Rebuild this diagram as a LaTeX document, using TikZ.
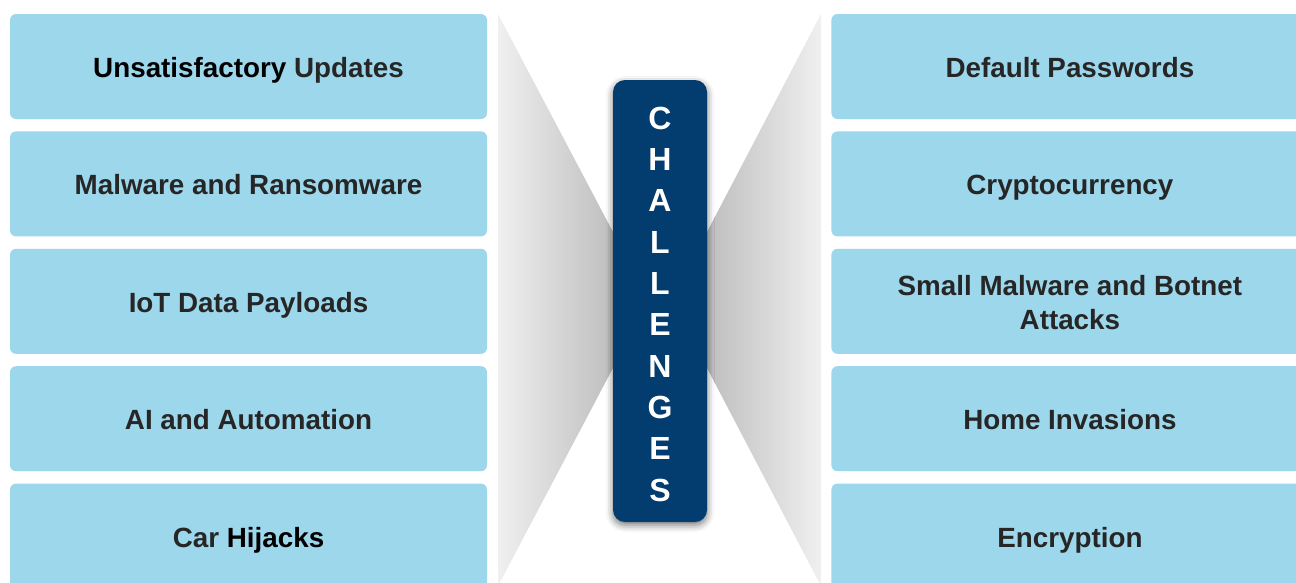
\documentclass[tikz,border=0pt]{standalone}
\usepackage{fontspec}
\setmainfont{Liberation Sans}
\usetikzlibrary{positioning,shadows.blur}
\definecolor{chlblue}{HTML}{9DD7EB}
\definecolor{chlnavy}{HTML}{033D6F}
\definecolor{chltext}{HTML}{262626}
\definecolor{chllight}{HTML}{F0F0F0}
\definecolor{chldark}{HTML}{BEBEBE}

\begin{document}
\begin{tikzpicture}[
  x=1pt, y=-1pt,
  node distance=12pt,
  item/.style={fill=chlblue, rounded corners=6pt, inner sep=0pt,
               minimum width=477pt, minimum height=105pt, align=center,
               text height=24pt, text depth=2pt,
               text=chltext, font=\fontsize{27.8}{34}\selectfont\bfseries},
  hub/.style={fill=chlnavy, rounded corners=12pt, inner sep=0pt,
              minimum width=94pt, minimum height=442pt, align=center,
              text height=400pt, text depth=0pt,
              text=white, font=\fontsize{32}{41.3}\selectfont\bfseries,
              blur shadow={shadow xshift=0pt, shadow yshift=-3pt,
                           shadow blur radius=7pt, shadow opacity=55}},
]
\useasboundingbox (0,0) rectangle (1296,582);

%% Grey funnels behind the centre bar
\shade[left color=chllight, right color=chldark]
  (498,14) -- (613,232) -- (613,368) -- (498,586) -- cycle;
\shade[left color=chldark, right color=chllight]
  (821,14) -- (707,232) -- (707,368) -- (821,586) -- cycle;

%% Left column
\node[item] (updates) at (248.5,66.5) {\textcolor{black}{Unsatisfactory} Updates};
\node[item, below=of updates] (malware) {Malware and Ransomware};
\node[item, below=of malware] (payloads) {IoT Data Payloads};
\node[item, below=of payloads] (ai) {AI and Automation};
\node[item, below=of ai] (hijacks) {Car \textcolor{black}{Hijacks}};

%% Right column
\node[item, right=344pt of updates] (passwords) {Default Passwords};
\node[item, below=of passwords] (crypto) {Cryptocurrency};
\node[item, below=of crypto, text height=58pt] (botnet) {Small Malware and Botnet\\Attacks};
\node[item, below=of botnet] (invasions) {Home Invasions};
\node[item, below=of invasions] (encryption) {Encryption};

%% Centre bar
\node[hub] (challenges) at (660,301) {C\\H\\A\\L\\L\\E\\N\\G\\E\\S};

\end{tikzpicture}
\end{document}
